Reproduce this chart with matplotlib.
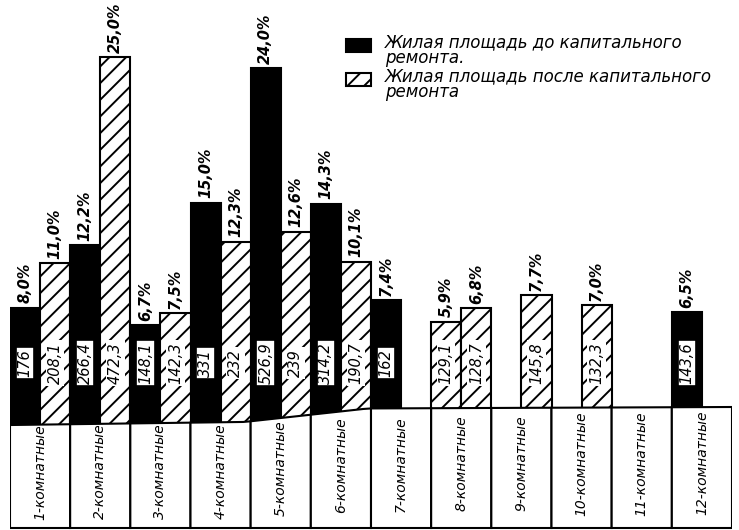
import numpy as np
import matplotlib.pyplot as plt
from matplotlib.patches import Polygon, Rectangle

# data
rooms = ['1-комнатные', '2-комнатные', '3-комнатные', '4-комнатные',
         '5-комнатные', '6-комнатные', '7-комнатные', '8-комнатные',
         '9-комнатные', '10-комнатные', '11-комнатные', '12-комнатные']
area_before = [176, 266.4, 148.1, 331, 526.9, 314.2, 162, 129.1, None, None, None, 143.6]
area_after = [208.1, 472.3, 142.3, 232, 239, 190.7, None, 128.7, 145.8, 132.3, None, None]
share_before = [8.0, 12.2, 6.7, 15.0, 24.0, 14.3, 7.4, 5.9, None, None, None, 6.5]
share_after = [11.0, 25.0, 7.5, 12.3, 12.6, 10.1, None, 6.8, 7.7, 7.0, None, None]
legend_labels = ['Жилая площадь до капитального\nремонта.',
                 'Жилая площадь после капитального\nремонта']

# layout
PX = 14.65                      # pixels per percent
BOX_BOTTOM = -121 / PX
WARP_X = [0, 3.9, 5.95, 12]     # the printed baseline sags on the left
WARP_Y = [-1.23, -1.02, -0.1, 0.0]
HATCHED_BEFORE = {7}            # in print, the 8-room "before" bar is hatched


def base(x):
    return np.interp(x, WARP_X, WARP_Y)


def fmt_area(v):
    return f"{v:g}".replace('.', ',')


def fmt_share(v):
    return f"{v:.1f}%".replace('.', ',')


plt.rcParams['hatch.linewidth'] = 1.4
fig = plt.figure(figsize=(7.39, 5.30), dpi=100)
ax = fig.add_axes([10 / 739, 0, 722 / 739, 1])
ax.set_xlim(0, 12)
ax.set_ylim(-123 / PX, 407 / PX)
ax.axis('off')

for i in range(len(rooms)):
    for side, (area, share) in enumerate([(area_before[i], share_before[i]),
                                          (area_after[i], share_after[i])]):
        if share is None:
            continue
        x0 = i + 0.5 * side
        xc = x0 + 0.25
        bot = min(base(x0), base(x0 + 0.5)) - 0.2
        top = base(xc) + share
        hatched = side == 1 or i in HATCHED_BEFORE
        ax.bar(x0, top - bot, width=0.5, bottom=bot, align='edge',
               color='white' if hatched else 'black', edgecolor='black',
               hatch='//' if hatched else None, linewidth=1.5, zorder=2)
        ax.text(xc, top + 0.3, fmt_share(share), rotation=90, ha='center',
                va='bottom', fontsize=10.5, fontweight='bold', style='italic',
                zorder=5)
        ax.text(xc, 3.0, fmt_area(area), rotation=90, ha='center', va='center',
                fontsize=10.5, style='italic', zorder=5,
                bbox=dict(boxstyle='square,pad=0.12', fc='white',
                          ec='none' if hatched else 'black', lw=1.2))

# label boxes under the bars
for i, name in enumerate(rooms):
    xs = np.linspace(i, i + 1, 9)
    pts = [(i, BOX_BOTTOM)] + list(zip(xs, base(xs))) + [(i + 1, BOX_BOTTOM)]
    ax.add_patch(Polygon(pts, closed=True, fc='white', ec='black', lw=1.5, zorder=3))
    ax.text(i + 0.5, (base(i + 0.5) + BOX_BOTTOM) / 2 + 0.3, name, rotation=90,
            ha='center', va='center', fontsize=10, style='italic', zorder=4)

# legend
for k, label in enumerate(legend_labels):
    y_top = 25.5 - k * 2.32
    ax.add_patch(Rectangle((5.58, y_top - 1.3), 0.42, 0.95, fc='white' if k else 'black',
                           ec='black', lw=1.5, hatch='//' if k else None, zorder=3))
    ax.text(6.23, y_top, label, ha='left', va='top', fontsize=12,
            style='italic', linespacing=0.82)

fig.savefig('out.png', dpi=100)
